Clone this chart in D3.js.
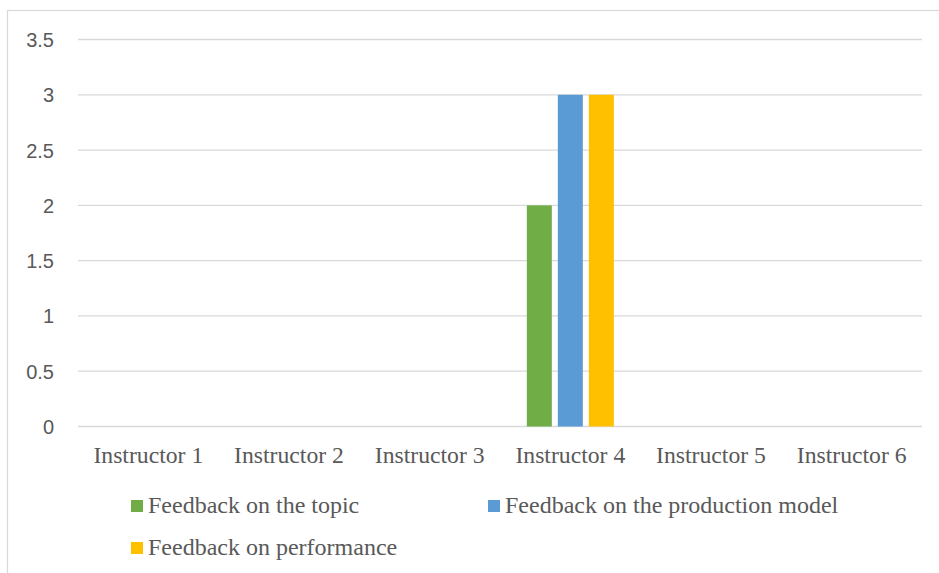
<!DOCTYPE html>
<html>
<head>
<meta charset="utf-8">
<script src="https://cdn.jsdelivr.net/npm/d3@7"></script>
<style>
  html, body { margin: 0; padding: 0; background: #fff; }
  svg { display: block; }
</style>
</head>
<body>
<svg id="chart" width="939" height="573"></svg>
<script>
// Chart data
const categories = ["Instructor 1", "Instructor 2", "Instructor 3", "Instructor 4", "Instructor 5", "Instructor 6"];
const seriesNames = ["Feedback on the topic", "Feedback on the production model", "Feedback on performance"];
const topicValues = [0, 0, 0, 2, 0, 0];
const productionValues = [0, 0, 0, 3, 0, 0];
const performanceValues = [0, 0, 0, 3, 0, 0];
const yTicks = [0, 0.5, 1, 1.5, 2, 2.5, 3, 3.5];
const colors = ["#70AD47", "#5B9BD5", "#FFC000"];

const seriesValues = [topicValues, productionValues, performanceValues];

const svg = d3.select("#chart");
const serif = "'Liberation Serif', 'Times New Roman', serif";
const sans = "'Liberation Sans', Arial, sans-serif";
const textColor = "#595959";

// Chart frame
svg.append("rect")
  .attr("x", 7.5).attr("y", 10.5)
  .attr("width", 960).attr("height", 600)
  .attr("fill", "none").attr("stroke", "#d9d9d9").attr("stroke-width", 1.2);

const plot = { left: 78, right: 922, top: 39.5, bottom: 426.5 };

const x0 = d3.scaleBand().domain(categories).range([plot.left, plot.right]).padding(0);
const y = d3.scaleLinear().domain([0, 3.5]).range([plot.bottom, plot.top]);

const groupFrac = 0.6185;
const bw = x0.bandwidth();
const x1 = d3.scaleBand()
  .domain(d3.range(seriesNames.length))
  .range([bw * (1 - groupFrac) / 2, bw * (1 + groupFrac) / 2])
  .paddingInner(0.194).paddingOuter(0);

// Gridlines
svg.append("g").selectAll("line").data(yTicks).join("line")
  .attr("x1", plot.left).attr("x2", plot.right)
  .attr("y1", d => y(d)).attr("y2", d => y(d))
  .attr("stroke", "#d9d9d9").attr("stroke-width", 1.3);

// Y axis labels
const yAxis = d3.axisLeft(y).tickValues(yTicks).tickSize(0).tickPadding(0)
  .tickFormat(d3.format("~g"));
const yg = svg.append("g").attr("transform", "translate(54,0)").call(yAxis);
yg.select(".domain").remove();
yg.selectAll("text")
  .attr("font-family", sans).attr("font-size", 20).attr("fill", textColor)
  .attr("dy", "0.35em");

// Bars
const groups = svg.append("g").selectAll("g").data(categories).join("g")
  .attr("transform", d => `translate(${x0(d)},0)`);
groups.selectAll("rect")
  .data((c, ci) => seriesValues.map((vals, si) => ({ si, v: vals[ci] })))
  .join("rect")
  .filter(d => d.v > 0)
  .attr("x", d => x1(d.si))
  .attr("width", x1.bandwidth())
  .attr("y", d => y(d.v))
  .attr("height", d => y(0) - y(d.v))
  .attr("fill", d => colors[d.si]);

// Category labels
const xAxis = d3.axisBottom(x0).tickSize(0).tickPadding(0);
const xg = svg.append("g").attr("transform", "translate(0,463)").call(xAxis);
xg.select(".domain").remove();
xg.selectAll("text")
  .attr("font-family", serif).attr("font-size", 23.7).attr("fill", textColor)
  .attr("dy", 0).attr("y", 0);

// Legend
const legendPos = [
  { sx: 131, tx: 148, baseline: 513 },
  { sx: 488, tx: 505, baseline: 513 },
  { sx: 131, tx: 148, baseline: 555 }
];
const legend = svg.append("g").selectAll("g").data(seriesNames).join("g");
legend.append("rect")
  .attr("x", (d, i) => legendPos[i].sx)
  .attr("y", (d, i) => legendPos[i].baseline - 13)
  .attr("width", 12).attr("height", 12)
  .attr("fill", (d, i) => colors[i]);
legend.append("text")
  .attr("x", (d, i) => legendPos[i].tx)
  .attr("y", (d, i) => legendPos[i].baseline)
  .attr("font-family", serif).attr("font-size", 24).attr("fill", textColor)
  .text(d => d);
</script>
</body>
</html>
